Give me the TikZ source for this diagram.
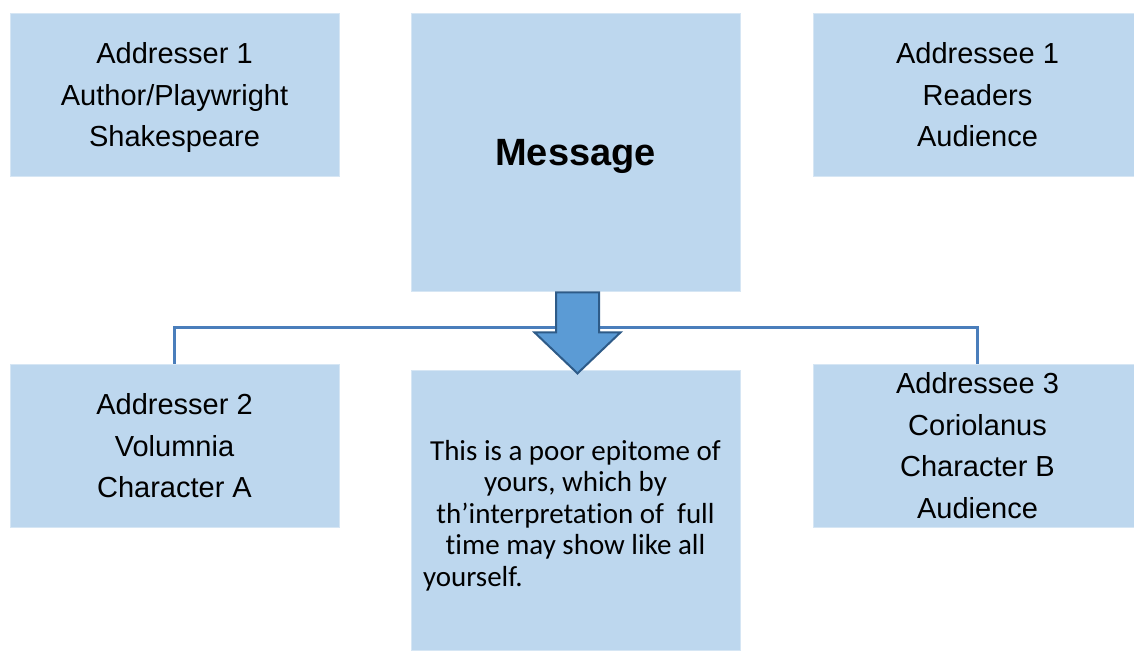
\documentclass[tikz,border=0pt]{standalone}
\usepackage{fontspec}
\setmainfont{Liberation Sans}
\newfontfamily\calibrifont[Ligatures=NoCommon]{Carlito}
\definecolor{boxblue}{HTML}{BDD7EE}
\definecolor{boxedge}{HTML}{D6E6F4}
\definecolor{arrowblue}{HTML}{5B9BD5}
\definecolor{arrowedge}{HTML}{2E5B88}
\definecolor{linkblue}{HTML}{4A7EBB}
\begin{document}
\begin{tikzpicture}[x=1pt,y=-1pt,
  box/.style={rectangle, fill=boxblue, draw=boxedge, line width=0.8pt, inner sep=0pt,
    minimum width=329pt, align=center, text depth=0pt, font=\fontsize{29}{41.7}\selectfont},
  link/.style={draw=linkblue, line width=2.5pt},
  bigarrow/.style={fill=arrowblue, draw=arrowedge, line width=2pt, line join=miter}]
\useasboundingbox (0,0) rectangle (1134,650);
\fill[white] (0,0) rectangle (1134,650);
% top row
\node[box, minimum height=163pt] (a1) at (174.5,94.5) {Addresser 1\\Author/Playwright\\Shakespeare};
\node[box, minimum height=278pt, font=\bfseries\fontsize{38}{45}\selectfont] (msg) at (575.5,152) {Message};
\node[box, minimum height=163pt] (ae1) at (977.5,94.5) {Addressee 1\\Readers\\Audience};
% bottom row
\node[box, minimum height=163pt] (a2) at (174.5,445.5) {Addresser 2\\Volumnia\\Character A};
\node[box, minimum height=280pt] (quote) at (575.5,510) {};
\node[box, minimum height=163pt] (ae3) at (977.5,445.5) {Addressee 3\\Coriolanus\\Character B\\Audience};
\node[align=center, inner sep=0pt, text depth=0pt,
  font=\calibrifont\fontsize{29}{31.5}\selectfont] (qt) at (575.5,513)
  {This is a poor epitome of\\ yours, which by\\ th’interpretation of\ \ full\\ time may show like all\\ \makebox[305pt][l]{yourself.}};
% connector
\draw[link] (a2.north) -- ++(0,-36) coordinate (lc) -| (ae3.north);
% arrow
\coordinate (at) at ([xshift=2pt]msg.south);
\draw[bigarrow] ([xshift=-21.5pt,yshift=-1pt]at) -- ([xshift=21.5pt,yshift=-1pt]at)
  -- ([xshift=21.5pt,yshift=-41pt]at) -- ([xshift=43pt,yshift=-41pt]at)
  -- ([yshift=-82pt]at) -- ([xshift=-43pt,yshift=-41pt]at)
  -- ([xshift=-21.5pt,yshift=-41pt]at) -- cycle;
\end{tikzpicture}
\end{document}
